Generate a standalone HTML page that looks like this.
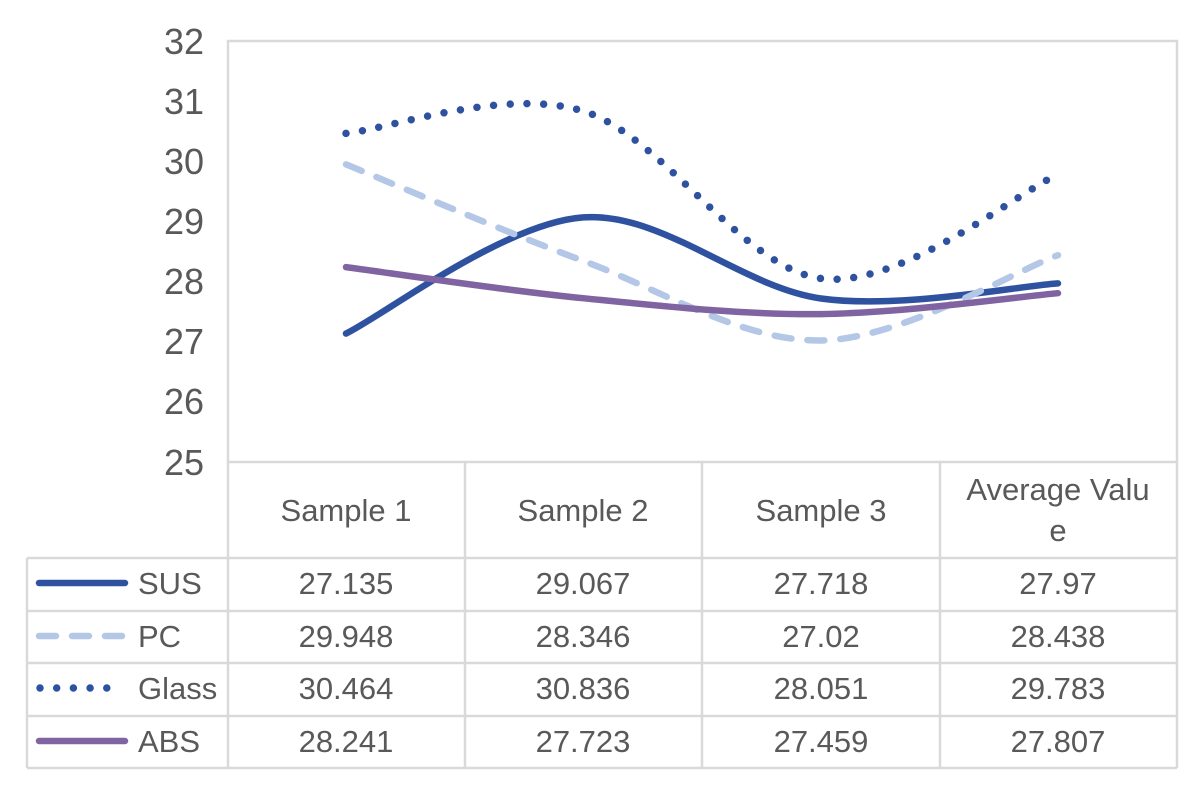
<!DOCTYPE html>
<html><head><meta charset="utf-8"><style>
body{margin:0;background:#fff;}
svg text{font-family:"Liberation Sans","DejaVu Sans",sans-serif;fill:#595959;}
</style></head><body>
<svg width="1188" height="793" viewBox="0 0 1188 793" xmlns="http://www.w3.org/2000/svg">
<g stroke="#d9d9d9" stroke-width="2.5" fill="none">
<rect x="228" y="41" width="949" height="421"/>
<line x1="228" y1="462" x2="228" y2="768"/>
<line x1="465" y1="462" x2="465" y2="768"/>
<line x1="702" y1="462" x2="702" y2="768"/>
<line x1="940" y1="462" x2="940" y2="768"/>
<line x1="1177" y1="462" x2="1177" y2="768"/>
<line x1="27" y1="558" x2="1177" y2="558"/>
<line x1="27" y1="611" x2="1177" y2="611"/>
<line x1="27" y1="663" x2="1177" y2="663"/>
<line x1="27" y1="716" x2="1177" y2="716"/>
<line x1="27" y1="768" x2="1177" y2="768"/>
<line x1="27" y1="558" x2="27" y2="768"/>
</g>
<g font-size="36" text-anchor="end">
<text x="204" y="54">32</text><text x="204" y="114">31</text><text x="204" y="174">30</text>
<text x="204" y="234">29</text><text x="204" y="294">28</text><text x="204" y="354">27</text>
<text x="204" y="414">26</text><text x="204" y="475">25</text>
</g>
<g font-size="31" text-anchor="middle">
<text x="346" y="521">Sample 1</text><text x="583" y="521">Sample 2</text><text x="821" y="521">Sample 3</text>
<text x="1058" y="500">Average Valu</text><text x="1058" y="541">e</text>
<text x="346" y="594">27.135</text><text x="583" y="594">29.067</text><text x="821" y="594">27.718</text><text x="1058" y="594">27.97</text>
<text x="346" y="647">29.948</text><text x="583" y="647">28.346</text><text x="821" y="647">27.02</text><text x="1058" y="647">28.438</text>
<text x="346" y="699">30.464</text><text x="583" y="699">30.836</text><text x="821" y="699">28.051</text><text x="1058" y="699">29.783</text>
<text x="346" y="752">28.241</text><text x="583" y="752">27.723</text><text x="821" y="752">27.459</text><text x="1058" y="752">27.807</text>
</g>
<g font-size="31">
<text x="138" y="594">SUS</text><text x="138" y="647">PC</text><text x="138" y="699">Glass</text><text x="138" y="752">ABS</text>
</g>
<g fill="none" stroke-width="6.5" stroke-linecap="round">
<line x1="39" y1="583" x2="125" y2="583" stroke="#2f52a0"/>
<line x1="39" y1="636" x2="125" y2="636" stroke="#b4c7e7" stroke-dasharray="17 16"/>
<line x1="40" y1="688" x2="108" y2="688" stroke="#2f52a0" stroke-width="7.5" stroke-dasharray="0 16.7"/>
<line x1="39" y1="741" x2="125" y2="741" stroke="#8064a2"/>
</g>
<g fill="none" stroke-width="6.5" stroke-linecap="round">
<path stroke="#2f52a0" d="M346,333.6 C385.5,314.2 503.8,223.3 583,217.4 C662.2,211.5 741.8,287.5 821,298.5 C900.2,309.5 1018.5,285.9 1058,283.4"/>
<path stroke="#b4c7e7" stroke-dasharray="17 16" d="M346,164.4 C385.5,180.5 503.8,231.5 583,260.8 C662.2,290.1 741.8,341.4 821,340.5 C900.2,339.6 1018.5,269.4 1058,255.2"/>
<path stroke="#2f52a0" stroke-width="7.5" stroke-dasharray="0 16.7" d="M346,133.4 C385.5,129.7 503.8,86.8 583,111.0 C662.2,135.2 741.8,267.9 821,278.5 C900.2,289.1 1018.5,191.7 1058,174.4"/>
<path stroke="#8064a2" d="M346,267.1 C385.5,272.3 503.8,290.4 583,298.2 C662.2,306.1 741.8,314.9 821,314.1 C900.2,313.3 1018.5,296.7 1058,293.2"/>
</g>
</svg>
</body></html>
